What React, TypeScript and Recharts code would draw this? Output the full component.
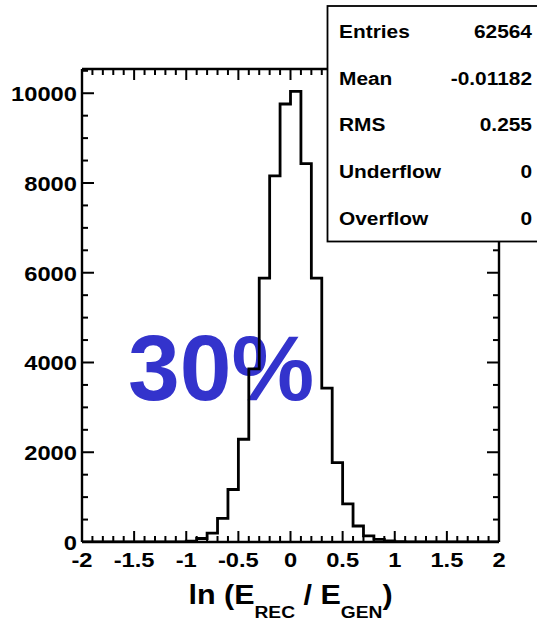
import React from 'react';
import { LineChart, Line, XAxis, YAxis, Label } from 'recharts';

// Histogram of ln(E_REC / E_GEN): 40 bins of width 0.1 between -2 and 2
const binEdges = [
  -2.0, -1.9, -1.8, -1.7, -1.6, -1.5, -1.4, -1.3, -1.2, -1.1,
  -1.0, -0.9, -0.8, -0.7, -0.6, -0.5, -0.4, -0.3, -0.2, -0.1,
  0.0, 0.1, 0.2, 0.3, 0.4, 0.5, 0.6, 0.7, 0.8, 0.9,
  1.0, 1.1, 1.2, 1.3, 1.4, 1.5, 1.6, 1.7, 1.8, 1.9, 2.0,
];
const counts = [
  0, 0, 0, 0, 0, 0, 0, 0, 0, 4,
  18, 78, 200, 528, 1170, 2290, 3860, 5880, 8160, 9760,
  10040, 8430, 5880, 3430, 1770, 850, 356, 136, 58, 22,
  6, 0, 0, 0, 0, 0, 0, 0, 0, 0,
];

const xMajorTicks = [-2, -1.5, -1, -0.5, 0, 0.5, 1, 1.5, 2];
const xMajorLabels = ['-2', '-1.5', '-1', '-0.5', '0', '0.5', '1', '1.5', '2'];
const yMajorTicks = [0, 2000, 4000, 6000, 8000, 10000];
const yMajorLabels = ['0', '2000', '4000', '6000', '8000', '10000'];
const yMinorTicks = [
  0, 500, 1000, 1500, 2000, 2500, 3000, 3500, 4000, 4500, 5000,
  5500, 6000, 6500, 7000, 7500, 8000, 8500, 9000, 9500, 10000, 10500,
];

const statNames = ['Entries', 'Mean', 'RMS', 'Underflow', 'Overflow'];
const statValues = ['62564', '-0.01182', '0.255', '0', '0'];
const overlayText = '30%';

// step-line points: each bin's left edge, plus the closing right edge
const chartData = binEdges.map((x, i) => ({
  x,
  count: counts[Math.min(i, counts.length - 1)],
}));

const FONT = '"Liberation Sans", Arial, Helvetica, sans-serif';
const SX = 1.13; // horizontal stretch of the Helvetica-style labels

const findIndex = (arr: number[], v: number) =>
  arr.findIndex((m) => Math.abs(m - v) < 1e-6);

// Tick renderers use payload.coordinate for the position along the axis and the
// axis box (x/y/width/height passed through from the axis) for the frame line.
const BottomTick = (props: any) => {
  const { payload } = props;
  const x = payload.coordinate;
  const y = props.axisY;
  const idx = findIndex(xMajorTicks, payload.value);
  const major = idx >= 0;
  return (
    <g>
      <line x1={x} y1={y} x2={x} y2={y - (major ? 11 : 6)} stroke="#000" strokeWidth={2} />
      {major && (
        <text
          transform={`translate(${x},${y + 25}) scale(${SX},1)`}
          textAnchor="middle"
          fontFamily={FONT}
          fontWeight="bold"
          fontSize={21}
          fill="#000"
        >
          {xMajorLabels[idx]}
        </text>
      )}
    </g>
  );
};

const TopTick = (props: any) => {
  const { payload } = props;
  const x = payload.coordinate;
  const y = props.axisY;
  const major = findIndex(xMajorTicks, payload.value) >= 0;
  return <line x1={x} y1={y} x2={x} y2={y + (major ? 11 : 6)} stroke="#000" strokeWidth={2} />;
};

const LeftTick = (props: any) => {
  const { payload } = props;
  const y = payload.coordinate;
  const x = props.axisX;
  const idx = findIndex(yMajorTicks, payload.value);
  const major = idx >= 0;
  return (
    <g>
      <line x1={x} y1={y} x2={x + (major ? 12 : 6)} y2={y} stroke="#000" strokeWidth={2} />
      {major && (
        <text
          transform={`translate(${x - 5},${y + 8}) scale(${SX},1)`}
          textAnchor="end"
          fontFamily={FONT}
          fontWeight="bold"
          fontSize={21}
          fill="#000"
        >
          {yMajorLabels[idx]}
        </text>
      )}
    </g>
  );
};

const RightTick = (props: any) => {
  const { payload } = props;
  const y = payload.coordinate;
  const x = props.axisX;
  const major = findIndex(yMajorTicks, payload.value) >= 0;
  return <line x1={x} y1={y} x2={x - (major ? 12 : 6)} y2={y} stroke="#000" strokeWidth={2} />;
};

const AxisTitle = (props: any) => {
  const vb = props.viewBox || {};
  const cx = vb.x + vb.width / 2;
  const by = vb.y + 62;
  return (
    <text
      transform={`translate(${cx},${by}) scale(${SX},1)`}
      textAnchor="middle"
      fontFamily={FONT}
      fontWeight="bold"
      fontSize={27}
      fill="#000"
    >
      ln (E
      <tspan fontSize={17} dy={14}>REC</tspan>
      <tspan dy={-14}> / E</tspan>
      <tspan fontSize={17} dy={14}>GEN</tspan>
      <tspan dy={-14}>)</tspan>
    </text>
  );
};

const axisLineStyle = { stroke: '#000', strokeWidth: 2.4 };

// plot frame geometry (chart margins and axis sizes)
const W = 537;
const H = 623;
const MARGIN = { top: 68, right: 37, bottom: 51, left: 10 };
const LEFT_W = 72;
const BOTTOM_H = 30;
const PLOT_LEFT = MARGIN.left + LEFT_W;
const PLOT_TOP = MARGIN.top + 1;
const PLOT_RIGHT = W - MARGIN.right - 1;
const PLOT_BOTTOM = H - MARGIN.bottom - BOTTOM_H;

export default function App() {
  return (
    <div style={{ position: 'absolute', left: 0, top: 0, width: W, height: H, background: '#fff' }}>
      {/* large blue annotation, beneath the histogram outline */}
      <svg width={W} height={H} style={{ position: 'absolute', left: 0, top: 0 }}>
        <text x={128} y={400} fontFamily={FONT} fontWeight="bold" fontSize={93} fill="#3333cc">
          {overlayText}
        </text>
      </svg>

      <div style={{ position: 'absolute', left: 0, top: 0 }}>
        <LineChart width={W} height={H} data={chartData} margin={MARGIN}>
          <XAxis
            dataKey="x"
            type="number"
            domain={[-2, 2]}
            allowDataOverflow
            ticks={binEdges}
            interval={0}
            tickLine={false}
            axisLine={axisLineStyle}
            tick={<BottomTick axisY={PLOT_BOTTOM} />}
            height={BOTTOM_H}
          >
            <Label content={<AxisTitle />} />
          </XAxis>
          <XAxis
            xAxisId="top"
            dataKey="x"
            orientation="top"
            type="number"
            domain={[-2, 2]}
            allowDataOverflow
            ticks={binEdges}
            interval={0}
            tickLine={false}
            axisLine={axisLineStyle}
            tick={<TopTick axisY={PLOT_TOP} />}
            height={1}
          />
          <YAxis
            type="number"
            domain={[0, 10540]}
            allowDataOverflow
            ticks={yMinorTicks}
            interval={0}
            tickLine={false}
            axisLine={axisLineStyle}
            tick={<LeftTick axisX={PLOT_LEFT} />}
            width={LEFT_W}
          />
          <YAxis
            yAxisId="right"
            orientation="right"
            type="number"
            domain={[0, 10540]}
            allowDataOverflow
            ticks={yMinorTicks}
            interval={0}
            tickLine={false}
            axisLine={axisLineStyle}
            tick={<RightTick axisX={PLOT_RIGHT} />}
            width={1}
          />
          {/* the same series bound to the top/right frame axes, kept invisible */}
          <Line
            xAxisId="top"
            yAxisId="right"
            type="stepAfter"
            dataKey="count"
            stroke="none"
            strokeWidth={0}
            dot={false}
            activeDot={false}
            isAnimationActive={false}
          />
          <Line
            type="stepAfter"
            dataKey="count"
            stroke="#000"
            strokeWidth={2.8}
            dot={false}
            activeDot={false}
            isAnimationActive={false}
          />
        </LineChart>
      </div>

      {/* statistics box */}
      <svg width={W} height={H} style={{ position: 'absolute', left: 0, top: 0, pointerEvents: 'none' }}>
        <rect x={327.5} y={6} width={215} height={235.5} fill="#fff" stroke="#000" strokeWidth={1.8} />
        {statNames.map((name, i) => {
          const by = 37.7 + i * 46.8;
          return (
            <g key={name}>
              <text
                transform={`translate(339,${by}) scale(${SX},1)`}
                fontFamily={FONT}
                fontWeight="bold"
                fontSize={18.5}
                fill="#000"
              >
                {name}
              </text>
              <text
                transform={`translate(532,${by}) scale(${SX},1)`}
                textAnchor="end"
                fontFamily={FONT}
                fontWeight="bold"
                fontSize={18.5}
                fill="#000"
              >
                {statValues[i]}
              </text>
            </g>
          );
        })}
      </svg>
    </div>
  );
}
